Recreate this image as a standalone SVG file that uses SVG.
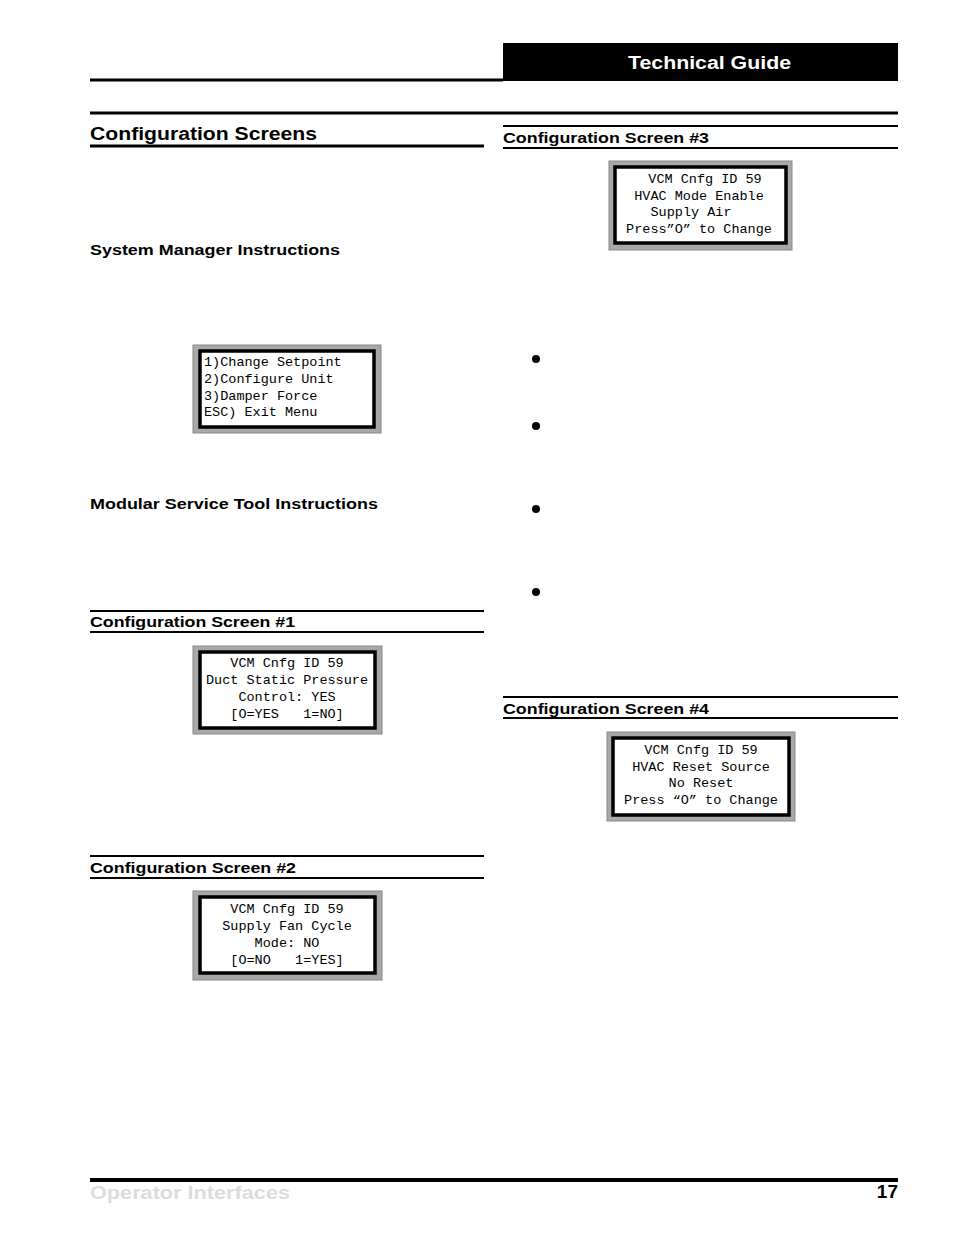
<svg xmlns="http://www.w3.org/2000/svg" width="954" height="1235" viewBox="0 0 954 1235">
<style>
.h{font-family:"Liberation Sans",Arial,sans-serif;font-weight:bold;fill:#000}
.m{font-family:"Liberation Mono","DejaVu Sans Mono",monospace;font-size:13.5px;fill:#000}
.o{fill:#a8a8a8;stroke:#888;stroke-width:1}
.i{fill:#fff;stroke:#000;stroke-width:3.5}
.l{stroke:#000}
</style>
<rect width="954" height="1235" fill="#fff"/>
<rect x="503" y="43" width="395" height="38" fill="#000"/>
<text x="628" y="69" class="h" font-size="18" style="fill:#fff" textLength="163" lengthAdjust="spacingAndGlyphs">Technical Guide</text>
<line x1="90" y1="80" x2="503" y2="80" class="l" stroke-width="3"/>
<line x1="90" y1="113" x2="898" y2="113" class="l" stroke-width="3"/>
<text x="90" y="140" class="h" font-size="17.5" textLength="227" lengthAdjust="spacingAndGlyphs">Configuration Screens</text>
<line x1="90" y1="146" x2="484" y2="146" class="l" stroke-width="3"/>
<line x1="503" y1="126" x2="898" y2="126" class="l" stroke-width="2"/>
<text x="503" y="143" class="h" font-size="14.5" textLength="206" lengthAdjust="spacingAndGlyphs">Configuration Screen #3</text>
<line x1="503" y1="148" x2="898" y2="148" class="l" stroke-width="2"/>
<text x="90" y="255" class="h" font-size="14.5" textLength="250" lengthAdjust="spacingAndGlyphs">System Manager Instructions</text>
<text x="90" y="509" class="h" font-size="14.5" textLength="288" lengthAdjust="spacingAndGlyphs">Modular Service Tool Instructions</text>
<line x1="90" y1="611" x2="484" y2="611" class="l" stroke-width="2"/>
<text x="90" y="627" class="h" font-size="14.5" textLength="205" lengthAdjust="spacingAndGlyphs">Configuration Screen #1</text>
<line x1="90" y1="632" x2="484" y2="632" class="l" stroke-width="2"/>
<line x1="90" y1="856" x2="484" y2="856" class="l" stroke-width="2"/>
<text x="90" y="873" class="h" font-size="14.5" textLength="206" lengthAdjust="spacingAndGlyphs">Configuration Screen #2</text>
<line x1="90" y1="878" x2="484" y2="878" class="l" stroke-width="2"/>
<line x1="503" y1="697" x2="898" y2="697" class="l" stroke-width="2"/>
<text x="503" y="714" class="h" font-size="14.5" textLength="206" lengthAdjust="spacingAndGlyphs">Configuration Screen #4</text>
<line x1="503" y1="718" x2="898" y2="718" class="l" stroke-width="2"/>
<g fill="#000"><circle cx="536" cy="359" r="4"/><circle cx="536" cy="426" r="4"/><circle cx="536" cy="509" r="4"/><circle cx="536" cy="592" r="4"/></g>
<g id="menu"><rect x="193" y="345" width="188" height="88" class="o"/><rect x="200" y="351" width="174" height="76" class="i"/>
<text class="m" xml:space="preserve"><tspan x="204" y="366">1)Change Setpoint</tspan><tspan x="204" y="383">2)Configure Unit</tspan><tspan x="204" y="400">3)Damper Force</tspan><tspan x="204" y="416">ESC) Exit Menu</tspan></text></g>
<g id="scr1"><rect x="193" y="646" width="189" height="88" class="o"/><rect x="200" y="652" width="175" height="76" class="i"/>
<text class="m" text-anchor="middle" xml:space="preserve"><tspan x="287" y="667">VCM Cnfg ID 59</tspan><tspan x="287" y="684">Duct Static Pressure</tspan><tspan x="287" y="701">Control: YES</tspan><tspan x="287" y="718">[O=YES   1=NO]</tspan></text></g>
<g id="scr2"><rect x="193" y="891" width="189" height="89" class="o"/><rect x="200" y="897" width="175" height="76" class="i"/>
<text class="m" text-anchor="middle" xml:space="preserve"><tspan x="287" y="913">VCM Cnfg ID 59</tspan><tspan x="287" y="930">Supply Fan Cycle</tspan><tspan x="287" y="947">Mode: NO</tspan><tspan x="287" y="964">[O=NO   1=YES]</tspan></text></g>
<g id="scr3"><rect x="609" y="161" width="183" height="89" class="o"/><rect x="615" y="167" width="171" height="76" class="i"/>
<text class="m" text-anchor="middle" xml:space="preserve"><tspan x="705" y="183">VCM Cnfg ID 59</tspan><tspan x="699" y="200">HVAC Mode Enable</tspan><tspan x="691" y="216">Supply Air</tspan><tspan x="699" y="233">Press”O” to Change</tspan></text></g>
<g id="scr4"><rect x="607" y="732" width="188" height="89" class="o"/><rect x="613" y="738" width="176" height="77" class="i"/>
<text class="m" text-anchor="middle" xml:space="preserve"><tspan x="701" y="754">VCM Cnfg ID 59</tspan><tspan x="701" y="771">HVAC Reset Source</tspan><tspan x="701" y="787">No Reset</tspan><tspan x="701" y="804">Press “O” to Change</tspan></text></g>
<line x1="90" y1="1180" x2="898" y2="1180" class="l" stroke-width="4"/>
<text x="90" y="1199" class="h" font-size="18" style="fill:#dcdcdc" textLength="200" lengthAdjust="spacingAndGlyphs">Operator Interfaces</text>
<text x="898" y="1198" class="h" font-size="19" text-anchor="end">17</text>
</svg>
